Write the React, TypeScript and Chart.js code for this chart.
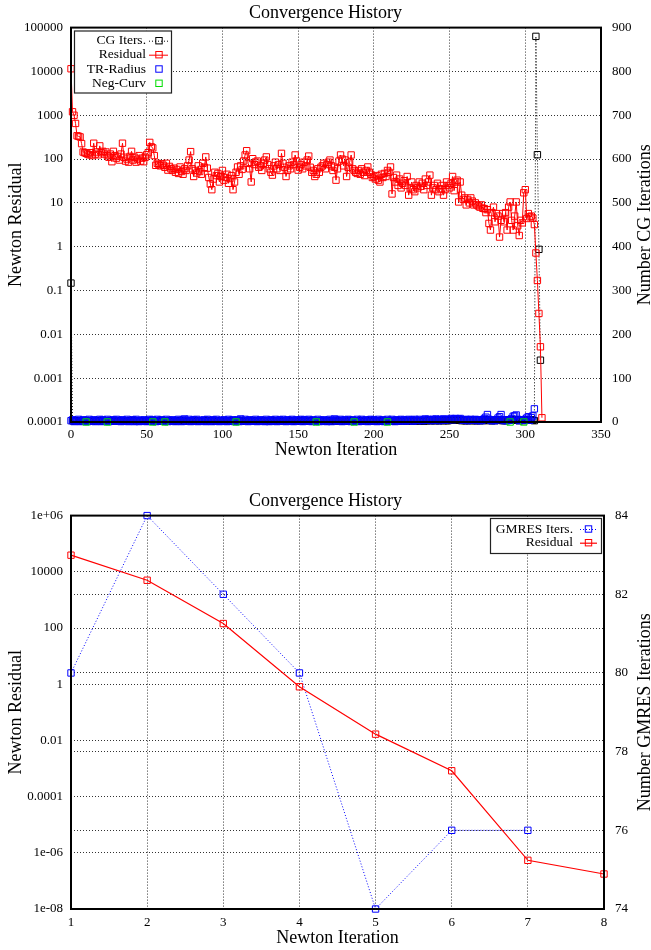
import React, { useEffect, useRef } from 'react';
import { Chart, registerables } from 'chart.js';

Chart.register(...registerables);

const FONT = "'Liberation Serif', 'Times New Roman', serif";

// ---------------- Top chart data ----------------
const topTitle = 'Convergence History';
const topXLabel = 'Newton Iteration';
const topYLabel = 'Newton Residual';
const topY2Label = 'Number CG Iterations';
const topLogTickValues = [1e-4, 1e-3, 1e-2, 1e-1, 1, 10, 100, 1000, 10000, 100000];
const topLogTickLabels = ['0.0001', '0.001', '0.01', '0.1', '1', '10', '100', '1000', '10000', '100000'];

// Newton residual, iteration 0..311
const residualTop = [
  11500, 1200, 1000, 650, 340, 330, 320, 225, 145, 140,
  135, 130, 125, 140, 120, 230, 130, 145, 125, 200,
  140, 150, 130, 145, 120, 110, 130, 87, 150, 120,
  105, 115, 95, 130, 230, 110, 90, 100, 85, 115,
  150, 95, 110, 85, 100, 120, 90, 105, 87, 110,
  125, 140, 240, 190, 180, 120, 72, 80, 75, 70,
  78, 72, 65, 80, 56, 68, 60, 55, 62, 50,
  58, 47, 66, 52, 45, 60, 55, 70, 95, 148,
  60, 40, 55, 48, 70, 52, 45, 80, 65, 112,
  62, 38, 27, 20, 35, 50, 42, 47, 30, 40,
  55, 33, 38, 45, 28, 36, 42, 20, 30, 50,
  66, 45, 70, 58, 90, 124, 155, 80, 60, 30,
  102, 75, 85, 90, 65, 70, 55, 80, 95, 112,
  75, 60, 50, 43, 70, 85, 60, 75, 55, 135,
  80, 65, 40, 55, 70, 60, 85, 75, 124, 90,
  56, 65, 75, 60, 85, 70, 95, 117, 65, 50,
  55, 40, 45, 60, 50, 65, 70, 80, 60, 75,
  85, 95, 70, 55, 65, 33, 60, 90, 124, 100,
  70, 95, 40, 65, 85, 124, 60, 55, 50, 47,
  55, 45, 60, 50, 42, 55, 66, 50, 45, 38,
  40, 35, 42, 33, 30, 45, 38, 47, 40, 55,
  50, 66, 16, 38, 30, 43, 25, 35, 22, 28,
  32, 25, 40, 15, 22, 30, 20, 18, 25, 22,
  30, 24, 28, 20, 35, 25, 30, 43, 15, 22,
  25, 20, 28, 18, 21, 25, 15, 20, 30, 25,
  22, 28, 40, 19, 30, 33, 10.5, 30, 15, 12,
  13, 9, 12, 10, 13, 11, 9, 10, 9, 8.5,
  8, 9, 7.5, 7.4, 6, 7, 3.4, 2.4, 6, 8,
  3.7, 5.7, 5, 1.66, 4, 5.7, 3.7, 6, 2.4, 8,
  10.5, 4, 2.4, 5, 10.5, 3, 1.8, 4, 3.5, 17,
  20, 4.4, 5.7, 4.8, 5, 4.5, 3.2, 0.72, 0.17, 0.03, 0.0052, 0.000125,
];

// CG iterations (right axis), iteration 0..310
const cgIters = [
  317,
  3, 2, 2, 3, 2, 2, 3, 2, 3, 2,
  2, 3, 2, 2, 3, 3, 2, 2, 3, 2,
  3, 2, 2, 3, 2, 3, 2, 2, 3, 2,
  2, 3, 2, 3, 2, 2, 3, 2, 2, 3,
  2, 2, 3, 2, 3, 2, 2, 3, 2, 2,
  3, 2, 3, 2, 2, 3, 2, 2, 3, 2,
  2, 3, 2, 2, 3, 2, 3, 2, 2, 3,
  2, 2, 3, 2, 2, 3, 2, 3, 2, 2,
  3, 2, 2, 3, 2, 2, 3, 2, 3, 2,
  2, 3, 2, 2, 3, 2, 2, 3, 2, 3,
  2, 2, 3, 2, 3, 2, 2, 3, 2, 2,
  3, 2, 2, 3, 2, 3, 2, 2, 3, 2,
  2, 3, 2, 2, 3, 2, 2, 3, 2, 3,
  2, 2, 3, 2, 2, 3, 2, 3, 2, 2,
  3, 2, 2, 3, 2, 2, 3, 2, 2, 3,
  2, 3, 2, 2, 3, 2, 3, 2, 2, 3,
  2, 2, 3, 2, 2, 3, 2, 2, 3, 2,
  3, 2, 2, 3, 2, 3, 2, 2, 3, 2,
  2, 3, 2, 2, 3, 2, 2, 3, 2, 3,
  2, 2, 3, 2, 3, 2, 2, 3, 2, 2,
  3, 2, 2, 3, 2, 2, 3, 2, 3, 2,
  2, 3, 2, 2, 3, 2, 3, 2, 2, 3,
  2, 3, 3, 2, 3, 3, 2, 3, 3, 2,
  3, 3, 2, 3, 3, 4, 3, 3, 4, 3,
  3, 4, 3, 3, 4, 3, 4, 3, 3, 4,
  4, 4, 5, 4, 4, 5, 4, 3, 4, 3,
  3, 4, 3, 4, 3, 4, 3, 3, 4, 3,
  4, 3, 4, 5, 4, 3, 4, 3, 4, 3,
  4, 4, 5, 4, 3, 4, 3, 4, 4, 5,
  4, 5, 4, 5, 4, 3, 4, 4, 3, 4,
  4, 5, 4, 5, 4, 3,
  880, 610, 394, 141,
];

// Trust-region radius markers (right axis), iteration 0..306
const trRadius = [
  3, 5, 1, 4, 2, 6, 1, 3, 5, 2,
  4, 1, 6, 2, 3, 5, 1, 4, 2, 6,
  1, 5, 3, 2, 6, 1, 4, 2, 5, 3,
  6, 2, 4, 1, 5, 3, 2, 6, 1, 4,
  2, 5, 1, 6, 3, 1, 4, 2, 5, 3,
  1, 4, 6, 2, 5, 3, 1, 6, 2, 4,
  5, 2, 3, 6, 1, 4, 2, 5, 3, 1,
  4, 6, 2, 1, 5, 7, 3, 2, 6, 1,
  3, 5, 2, 6, 1, 4, 3, 2, 5, 1,
  6, 2, 4, 1, 5, 3, 6, 2, 1, 4,
  2, 5, 3, 1, 6, 2, 4, 5, 1, 3,
  5, 1, 7, 4, 2, 6, 3, 1, 5, 2,
  4, 2, 6, 1, 3, 5, 2, 4, 1, 6,
  3, 1, 5, 4, 2, 6, 1, 3, 5, 2,
  6, 3, 1, 5, 2, 4, 6, 1, 3, 5,
  2, 4, 6, 1, 5, 3, 2, 6, 4, 1,
  5, 2, 3, 6, 1, 4, 2, 5, 3, 1,
  4, 6, 1, 3, 7, 5, 2, 4, 6, 1,
  3, 5, 2, 6, 4, 1, 5, 3, 2, 6,
  1, 4, 6, 2, 3, 5, 1, 4, 6, 2,
  5, 3, 1, 6, 2, 4, 5, 1, 3, 6,
  2, 4, 6, 3, 1, 5, 4, 2, 6, 3,
  5, 2, 4, 6, 3, 5, 2, 6, 4, 3,
  6, 4, 3, 5, 7, 4, 6, 5, 3, 6,
  4, 7, 5, 3, 6, 5, 7, 4, 6, 5,
  6, 8, 5, 7, 8, 6, 7, 8, 5, 4,
  5, 6, 3, 5, 6, 4, 5, 6, 3, 5,
  4, 3, 5, 8, 11, 17, 6, 4, 3, 4,
  3, 5, 9, 12, 17, 5, 3, 4, 3, 5,
  4, 8, 13, 14, 16, 6, 3, 4, 5, 4,
  6, 9, 12, 4, 10, 14, 30,
];

// Negative curvature detections
const negCurvIters = [10, 24, 54, 62, 109, 162, 187, 209, 290, 299];
const negCurvValues = [0, 0, 0, 0, 0, 0, 0, 0, 0, 0];

// ---------------- Bottom chart data ----------------
const botTitle = 'Convergence History';
const botXLabel = 'Newton Iteration';
const botYLabel = 'Newton Residual';
const botY2Label = 'Number GMRES Iterations';
const botLogTickValues = [1e-8, 1e-6, 1e-4, 1e-2, 1, 100, 1e4, 1e6];
const botLogTickLabels = ['1e-08', '1e-06', '0.0001', '0.01', '1', '100', '10000', '1e+06'];
const botIters = [1, 2, 3, 4, 5, 6, 7, 8];
const botResidual = [39000, 5000, 144, 0.81, 0.0167, 0.00083, 5.4e-7, 1.76e-7];
const gmresIters = [80, 84, 82, 80, 74, 76, 76];

// ---------------- helpers ----------------
function logLabel(values: number[], labels: string[]) {
  return (v: number) => {
    const k = values.findIndex((t) => Math.abs(Math.log10(t) - Math.log10(v)) < 1e-6);
    return k >= 0 ? labels[k] : '';
  };
}

const tickFont = { family: FONT, size: 13 };
const titleFont = { family: FONT, size: 18, weight: 'normal' as const };
const gridColor = '#333';

const framePlugin = {
  id: 'frameBox',
  afterDatasetsDraw(chart: any) {
    const { ctx, chartArea: a } = chart;
    ctx.save();
    ctx.strokeStyle = '#000';
    ctx.lineWidth = 2;
    ctx.strokeRect(a.left, a.top, a.right - a.left, a.bottom - a.top);
    ctx.restore();
  },
};

function makeKeyPlugin(cfg: { box: number[]; rows: number[]; textRight: number; lineX0: number; lineX1: number; markX: number }) {
  return {
    id: 'gnuKey',
    afterDatasetsDraw(chart: any) {
      const ctx = chart.ctx;
      const [bx, by, bw, bh] = cfg.box;
      ctx.save();
      ctx.fillStyle = '#fff';
      ctx.fillRect(bx, by, bw, bh);
      ctx.strokeStyle = '#222';
      ctx.lineWidth = 1.2;
      ctx.strokeRect(bx + 0.5, by + 0.5, bw, bh);
      ctx.font = `13.5px ${FONT}`;
      ctx.textAlign = 'right';
      ctx.textBaseline = 'middle';
      cfg.rows.forEach((y, k) => {
        const ds = chart.data.datasets[k];
        ctx.fillStyle = '#000';
        ctx.fillText(ds.label, cfg.textRight, y);
        if (ds.showLine !== false) {
          ctx.save();
          ctx.strokeStyle = ds.borderColor;
          ctx.lineWidth = ds.borderWidth || 1;
          ctx.setLineDash(ds.borderDash || []);
          ctx.beginPath();
          ctx.moveTo(cfg.lineX0, y + 0.5);
          ctx.lineTo(cfg.lineX1, y + 0.5);
          ctx.stroke();
          ctx.restore();
        }
        ctx.strokeStyle = ds.pointBorderColor;
        ctx.lineWidth = 1;
        const s = 3.2;
        ctx.strokeRect(cfg.markX - s, y - s, 2 * s, 2 * s);
      });
      ctx.restore();
    },
  };
}

function makeRightTitlePlugin(text: string, x: number) {
  return {
    id: 'rightTitle',
    afterDraw(chart: any) {
      const { ctx, chartArea: a } = chart;
      ctx.save();
      ctx.translate(x, (a.top + a.bottom) / 2);
      ctx.rotate(-Math.PI / 2);
      ctx.font = `18px ${FONT}`;
      ctx.fillStyle = '#000';
      ctx.textAlign = 'center';
      ctx.textBaseline = 'middle';
      ctx.fillText(text, 0, 0);
      ctx.restore();
    },
  };
}

const hollowRect = (color: string) => ({
  pointStyle: 'rect' as const,
  pointRadius: 4.5,
  pointHoverRadius: 4.5,
  pointBorderColor: color,
  pointBackgroundColor: 'rgba(0,0,0,0)',
  pointBorderWidth: 1,
});

function makeTop(canvas: HTMLCanvasElement) {
  return new Chart(canvas, {
    type: 'line',
    data: {
      datasets: [
        {
          label: 'CG Iters.',
          data: cgIters.map((v, i) => ({ x: i, y: v })),
          yAxisID: 'y2',
          borderColor: '#000',
          borderWidth: 1,
          borderDash: [1, 2],
          ...hollowRect('#000'),
          order: 4,
          clip: false,
        },
        {
          label: 'Residual',
          data: residualTop.map((v, i) => ({ x: i, y: v })),
          yAxisID: 'y',
          borderColor: '#ff0000',
          borderWidth: 1,
          ...hollowRect('#ff0000'),
          order: 3,
          clip: false,
        },
        {
          label: 'TR-Radius',
          data: trRadius.map((v, i) => ({ x: i, y: v })),
          yAxisID: 'y2',
          showLine: false,
          borderColor: '#0000ff',
          ...hollowRect('#0000ff'),
          order: 2,
          clip: false,
        },
        {
          label: 'Neg-Curv',
          data: negCurvIters.map((it, k) => ({ x: it, y: negCurvValues[k] })),
          yAxisID: 'y2',
          showLine: false,
          borderColor: '#00ff00',
          ...hollowRect('#00dd00'),
          order: 1,
          clip: false,
        },
      ],
    } as any,
    options: {
      responsive: false,
      animation: false,
      events: [],
      layout: { padding: 0 },
      plugins: {
        legend: { display: false },
        tooltip: { enabled: false },
        title: { display: true, text: topTitle, font: titleFont, color: '#000', padding: { top: 2, bottom: 4 } },
      },
      scales: {
        x: {
          type: 'linear',
          min: 0,
          max: 350,
          ticks: { stepSize: 50, font: tickFont, color: '#000', padding: 5, maxRotation: 0, autoSkip: false },
          grid: { color: gridColor, lineWidth: 1, drawTicks: false },
          border: { display: false, dash: [1, 2] },
          title: { display: true, text: topXLabel, font: titleFont, color: '#000', padding: { top: 0, bottom: 9 } },
          afterFit: (s: any) => { s.height = 48; },
        },
        y: {
          type: 'logarithmic',
          position: 'left',
          min: 1e-4,
          max: 1e5,
          afterBuildTicks: (s: any) => { s.ticks = topLogTickValues.map((v) => ({ value: v })); },
          ticks: { callback: logLabel(topLogTickValues, topLogTickLabels) as any, font: tickFont, color: '#000', padding: 8, autoSkip: false },
          grid: { color: gridColor, lineWidth: 1, drawTicks: false },
          border: { display: false, dash: [1, 2] },
          title: { display: true, text: topYLabel, font: titleFont, color: '#000', padding: { top: 5, bottom: 0 } },
          afterFit: (s: any) => { s.width = 71; },
        },
        y2: {
          type: 'linear',
          position: 'right',
          min: 0,
          max: 900,
          ticks: { stepSize: 100, font: tickFont, color: '#000', padding: 11, autoSkip: false },
          grid: { display: false, drawTicks: false },
          border: { display: false },
          afterFit: (s: any) => { s.width = 50; },
        },
      },
    } as any,
    plugins: [
      framePlugin,
      makeKeyPlugin({ box: [74, 30.5, 97, 62], rows: [40.7, 54.7, 69, 83.3], textRight: 146, lineX0: 149, lineX1: 168, markX: 159 }),
      makeRightTitlePlugin(topY2Label, 645),
    ],
  });
}

function makeBottom(canvas: HTMLCanvasElement) {
  return new Chart(canvas, {
    type: 'line',
    data: {
      datasets: [
        {
          label: 'GMRES Iters.',
          data: gmresIters.map((v, i) => ({ x: botIters[i], y: v })),
          yAxisID: 'y2',
          borderColor: '#0000ff',
          borderWidth: 1,
          borderDash: [1, 2],
          ...hollowRect('#0000ff'),
          order: 2,
          clip: false,
        },
        {
          label: 'Residual',
          data: botResidual.map((v, i) => ({ x: botIters[i], y: v })),
          yAxisID: 'y',
          borderColor: '#ff0000',
          borderWidth: 1.2,
          ...hollowRect('#ff0000'),
          order: 1,
          clip: false,
        },
      ],
    } as any,
    options: {
      responsive: false,
      animation: false,
      events: [],
      layout: { padding: 0 },
      plugins: {
        legend: { display: false },
        tooltip: { enabled: false },
        title: { display: true, text: botTitle, font: titleFont, color: '#000', padding: { top: 10, bottom: 4 } },
      },
      scales: {
        x: {
          type: 'linear',
          min: 1,
          max: 8,
          ticks: { stepSize: 1, font: tickFont, color: '#000', padding: 6, maxRotation: 0, autoSkip: false },
          grid: { color: gridColor, lineWidth: 1, drawTicks: false },
          border: { display: false, dash: [1, 2] },
          title: { display: true, text: botXLabel, font: titleFont, color: '#000', padding: { top: 0, bottom: 1 } },
          afterFit: (s: any) => { s.height = 41; },
        },
        y: {
          type: 'logarithmic',
          position: 'left',
          min: 1e-8,
          max: 1e6,
          afterBuildTicks: (s: any) => { s.ticks = botLogTickValues.map((v) => ({ value: v })); },
          ticks: { callback: logLabel(botLogTickValues, botLogTickLabels) as any, font: tickFont, color: '#000', padding: 8, autoSkip: false },
          grid: { color: gridColor, lineWidth: 1, drawTicks: false },
          border: { display: false, dash: [1, 2] },
          title: { display: true, text: botYLabel, font: titleFont, color: '#000', padding: { top: 5, bottom: 0 } },
          afterFit: (s: any) => { s.width = 71; },
        },
        y2: {
          type: 'linear',
          position: 'right',
          min: 74,
          max: 84,
          ticks: { stepSize: 2, font: tickFont, color: '#000', padding: 11, autoSkip: false },
          grid: { color: gridColor, lineWidth: 1, drawTicks: false },
          border: { display: false, dash: [1, 2] },
          afterFit: (s: any) => { s.width = 47; },
        },
      },
    } as any,
    plugins: [
      framePlugin,
      makeKeyPlugin({ box: [490, 38, 111, 35], rows: [49, 62.7], textRight: 573, lineX0: 580, lineX1: 597, markX: 588.5 }),
      makeRightTitlePlugin(botY2Label, 645),
    ],
  });
}

export default function App() {
  const topRef = useRef<HTMLCanvasElement>(null);
  const botRef = useRef<HTMLCanvasElement>(null);
  useEffect(() => {
    const a = makeTop(topRef.current as HTMLCanvasElement);
    const b = makeBottom(botRef.current as HTMLCanvasElement);
    return () => {
      a.destroy();
      b.destroy();
    };
  }, []);
  return (
    <div style={{ position: 'absolute', left: 0, top: 0, width: 651, height: 950, background: '#fff', overflow: 'hidden' }}>
      <canvas ref={topRef} width={651} height={470} style={{ position: 'absolute', left: 0, top: 0 }} />
      <canvas ref={botRef} width={651} height={470} style={{ position: 'absolute', left: 0, top: 480 }} />
    </div>
  );
}
